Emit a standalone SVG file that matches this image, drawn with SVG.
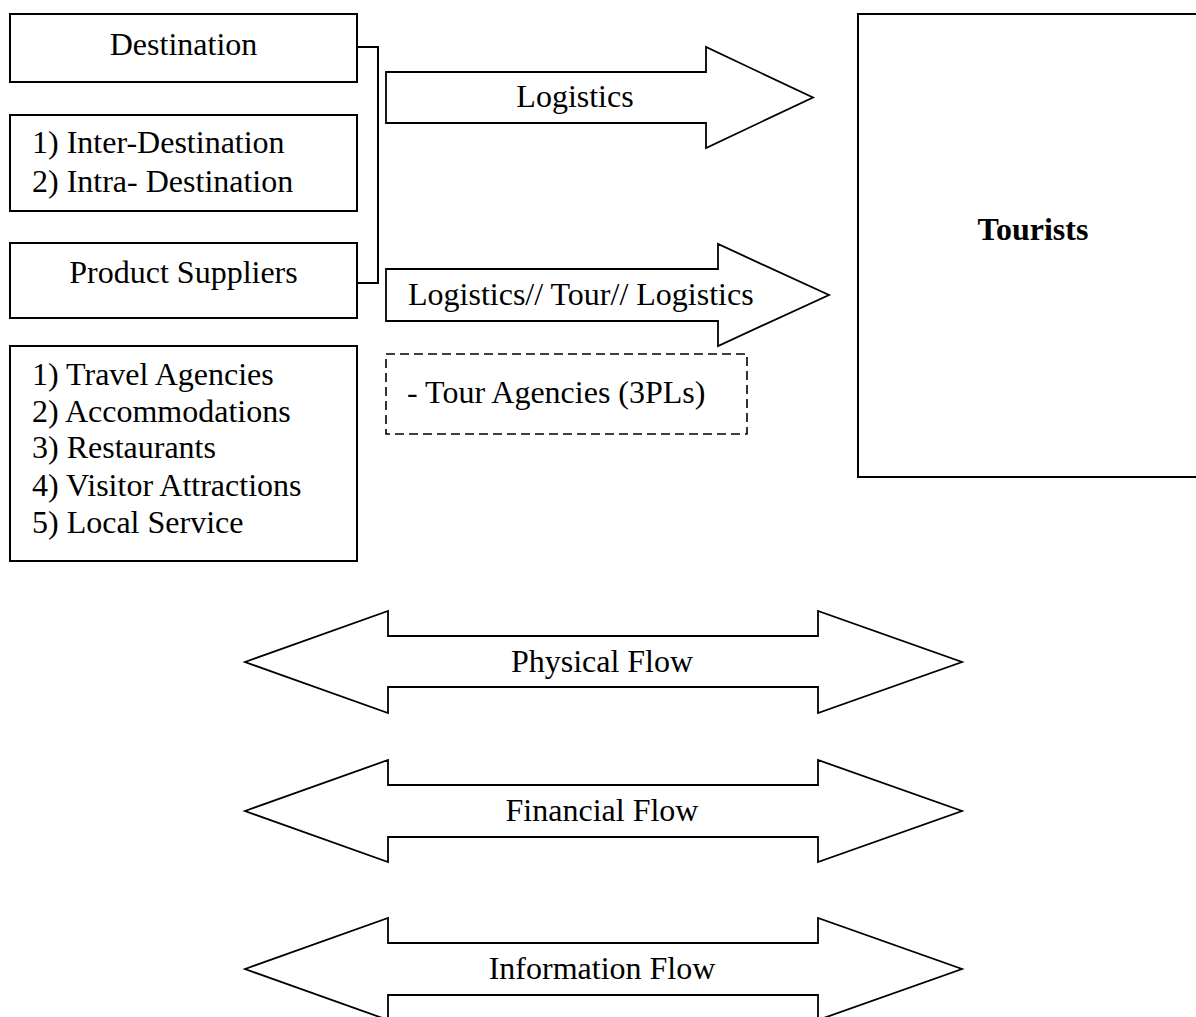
<svg xmlns="http://www.w3.org/2000/svg" width="1196" height="1017" viewBox="0 0 1196 1017">
  <style>
    text { font-family: "Liberation Serif", "Times New Roman", serif; font-size: 32px; fill: #000; }
    .box { fill: #fff; stroke: #000; stroke-width: 2; }
    .dash { fill: #fff; stroke: #000; stroke-width: 1.6; stroke-dasharray: 9 5; }
    .arrow { fill: #fff; stroke: #000; stroke-width: 1.8; stroke-linejoin: miter; }
    .link { fill: none; stroke: #000; stroke-width: 2; }
    .mid { text-anchor: middle; }
    .bold { font-weight: bold; }
  </style>
  <rect width="1196" height="1017" fill="#fff"/>

  <g id="connectors">
    <!-- bracket joining Destination and Product Suppliers -->
    <polyline class="link" points="357,47 378,47 378,283 357,283"/>
  </g>

  <g id="destination">
    <rect class="box" x="10" y="14" width="347" height="68"/>
    <text class="mid" x="183.5" y="55">Destination</text>
  </g>

  <g id="destination-types">
    <rect class="box" x="10" y="115" width="347" height="96"/>
    <text x="32" y="153">1) Inter-Destination</text>
    <text x="32" y="192">2) Intra- Destination</text>
  </g>

  <g id="product-suppliers">
    <rect class="box" x="10" y="243" width="347" height="75"/>
    <text class="mid" x="183.5" y="283">Product Suppliers</text>
  </g>

  <g id="supplier-types">
    <rect class="box" x="10" y="346" width="347" height="215"/>
    <text x="32" y="385">1) Travel Agencies</text>
    <text x="32" y="422">2) Accommodations</text>
    <text x="32" y="458">3) Restaurants</text>
    <text x="32" y="496">4) Visitor Attractions</text>
    <text x="32" y="533">5) Local Service</text>
  </g>

  <g id="logistics">
    <polygon class="arrow" points="386,72 706,72 706,47 813,97.5 706,148 706,123 386,123"/>
    <text class="mid" x="575" y="107">Logistics</text>
  </g>

  <g id="logistics-tour">
    <polygon class="arrow" points="386,269 718,269 718,244 829,295 718,346 718,321 386,321"/>
    <text x="408" y="305">Logistics// Tour// Logistics</text>
  </g>

  <g id="tour-agencies">
    <rect class="dash" x="386" y="354" width="361" height="80"/>
    <text x="407" y="403">- Tour Agencies (3PLs)</text>
  </g>

  <g id="tourists">
    <rect class="box" x="858" y="14" width="400" height="463"/>
    <text class="mid bold" x="1033" y="240">Tourists</text>
  </g>

  <g id="physical-flow">
    <polygon class="arrow" points="245,662 388,611 388,636 818,636 818,611 962,662 818,713 818,687 388,687 388,713"/>
    <text class="mid" x="602" y="672">Physical Flow</text>
  </g>

  <g id="financial-flow">
    <polygon class="arrow" points="245,811 388,760 388,785 818,785 818,760 962,811 818,862 818,837 388,837 388,862"/>
    <text class="mid" x="602" y="821">Financial Flow</text>
  </g>

  <g id="information-flow">
    <polygon class="arrow" points="245,969 388,918 388,943 818,943 818,918 962,969 818,1020 818,995 388,995 388,1020"/>
    <text class="mid" x="602" y="979">Information Flow</text>
  </g>
</svg>
